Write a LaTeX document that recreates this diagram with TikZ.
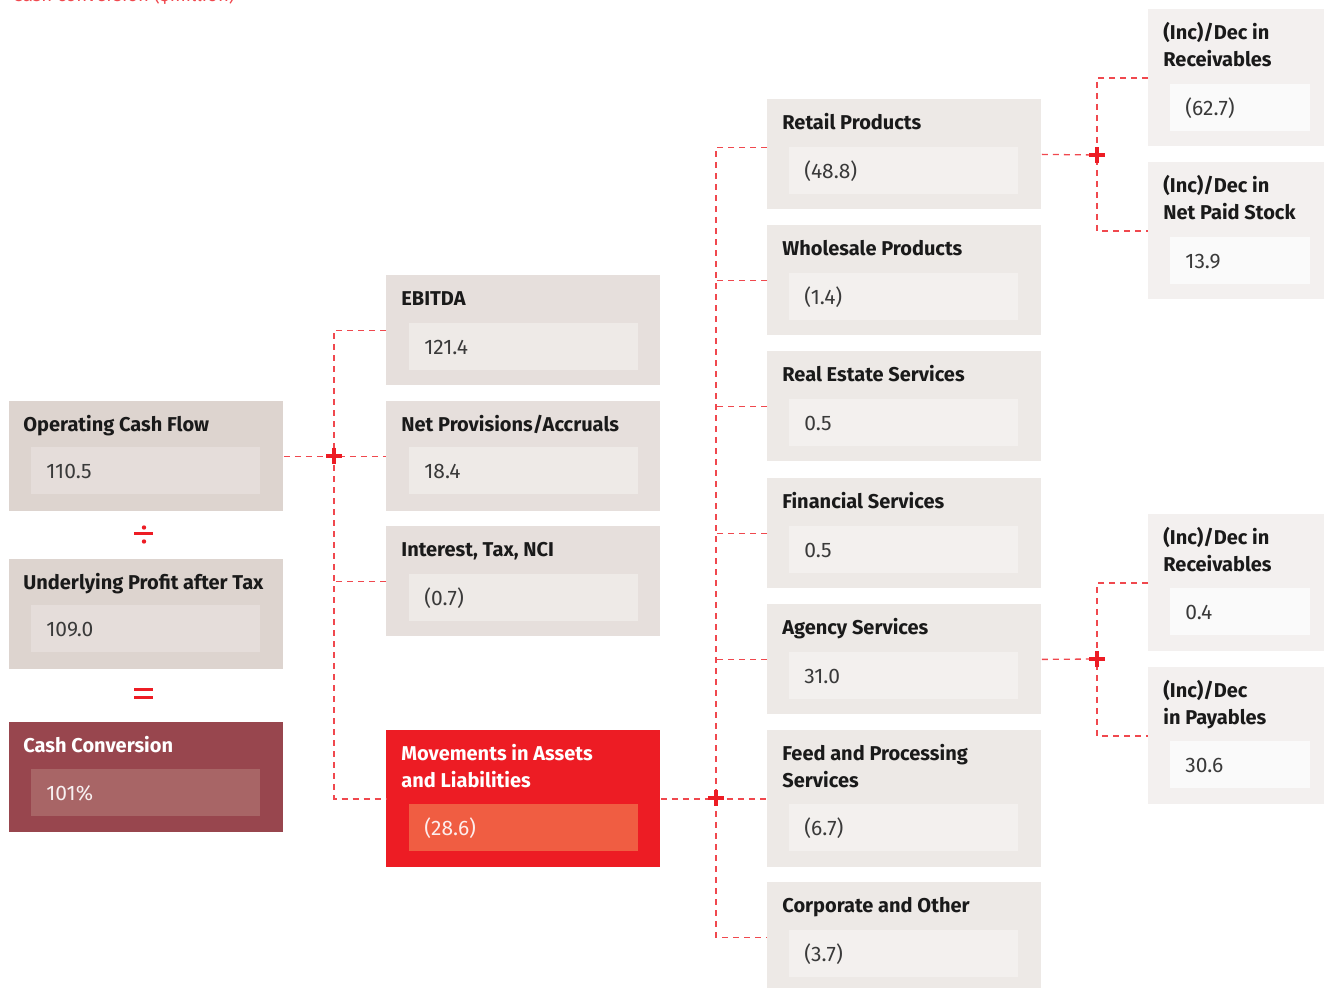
\documentclass[tikz,border=0pt]{standalone}
\usepackage{fontspec}
\setmainfont{Fira Sans}
\usetikzlibrary{positioning}
\definecolor{taupeA}{HTML}{DDD4CF}
\definecolor{taupeAin}{HTML}{E5DDDA}
\definecolor{wine}{HTML}{98464E}
\definecolor{winein}{HTML}{A86566}
\definecolor{taupeB}{HTML}{E6DFDC}
\definecolor{taupeBin}{HTML}{EEEAE7}
\definecolor{brand}{HTML}{ED1C24}
\definecolor{brandin}{HTML}{F05D42}
\definecolor{taupeC}{HTML}{EDE9E6}
\definecolor{taupeCin}{HTML}{F3F0EE}
\definecolor{taupeD}{HTML}{F3F0EF}
\definecolor{taupeDin}{HTML}{FAFAFA}
\definecolor{linkred}{HTML}{F0484E}
\definecolor{ink}{HTML}{1A1A1A}
\definecolor{valgrey}{HTML}{3A3A3A}
\begin{document}
\begin{tikzpicture}[x=0.5pt, y=-0.5pt,
	outer/.style={anchor=north west, inner sep=0pt, minimum width=137pt, minimum height=55pt},
	tall/.style={minimum height=68.5pt},
	narrow/.style={minimum width=88pt, minimum height=68.5pt},
	title/.style={anchor=base west, inner sep=0pt, align=left, font=\bfseries\fontsize{10}{13.5}\selectfont, text=ink},
	value/.style={anchor=north west, inner sep=0pt, inner xsep=7.5pt, minimum height=23.5pt, text width=99.5pt, text height=7.2pt, text depth=0pt, font=\fontsize{10.5}{12}\selectfont, text=valgrey},
	short/.style={text width=55pt},
	link/.style={draw=linkred, line width=0.65pt, dash pattern=on 3pt off 2.5pt},
	plus/.style={draw=brand, line width=1.6pt}]
	\useasboundingbox (0,0) rectangle (1324,988);
	\node[anchor=base west, inner sep=0pt, text=linkred, font=\fontsize{9.3}{11}\selectfont] (heading) at (12,1.5) {Cash conversion (\$million)};
	% first column
	\node[outer, fill=taupeA] (ocf) at (9,401) {};
	\node[title] (ocft) at ([shift={(14,31)}]ocf.north west) {Operating Cash Flow};
	\node[value, fill=taupeAin] (ocfv) at ([shift={(22,46)}]ocf.north west) {110.5};
	\node[outer, fill=taupeA] (upat) at (9,559) {};
	\node[title] (upatt) at ([shift={(14,31)}]upat.north west) {Underlying Profit after Tax};
	\node[value, fill=taupeAin] (upatv) at ([shift={(22,46)}]upat.north west) {109.0};
	\node[outer, fill=wine] (cc) at (9,722) {};
	\node[title, text=white] (cct) at ([shift={(14,31)}]cc.north west) {Cash Conversion};
	\node[value, fill=winein, text=white!92!wine] (ccv) at ([shift={(22,47)}]cc.north west) {101\%};
	\draw[brand, line width=1.5pt] (134,534) -- (153,534);
	\fill[brand] (144,527.5) circle (1.1pt) (144,541.5) circle (1.1pt);
	\draw[brand, line width=1.5pt] (134,690) -- (153,690) (134,698) -- (153,698);
	% second column
	\node[outer, fill=taupeB] (ebitda) at (386,275) {};
	\node[title] (ebitdat) at ([shift={(15,31)}]ebitda.north west) {EBITDA};
	\node[value, fill=taupeBin] (ebitdav) at ([shift={(23,48)}]ebitda.north west) {121.4};
	\node[outer, fill=taupeB] (npa) at (386,401) {};
	\node[title] (npat) at ([shift={(15,31)}]npa.north west) {Net Provisions/Accruals};
	\node[value, fill=taupeBin] (npav) at ([shift={(23,46)}]npa.north west) {18.4};
	\node[outer, fill=taupeB] (itn) at (386,526) {};
	\node[title] (itnt) at ([shift={(15,31)}]itn.north west) {Interest, Tax, NCI};
	\node[value, fill=taupeBin] (itnv) at ([shift={(23,48)}]itn.north west) {(0.7)};
	\node[outer, tall, fill=brand] (mal) at (386,730) {};
	\node[title, text=white] (malt) at ([shift={(15,58)}]mal.north west) {Movements in Assets\\and Liabilities};
	\node[value, fill=brandin, text=white!92!brand] (malv) at ([shift={(23,74)}]mal.north west) {(28.6)};
	% third column
	\node[outer, fill=taupeC] (retail) at (767,99) {};
	\node[title] (retailt) at ([shift={(15,31)}]retail.north west) {Retail Products};
	\node[value, fill=taupeCin] (retailv) at ([shift={(22,48)}]retail.north west) {(48.8)};
	\node[outer, fill=taupeC] (wholesale) at (767,225) {};
	\node[title] (wholesalet) at ([shift={(15,31)}]wholesale.north west) {Wholesale Products};
	\node[value, fill=taupeCin] (wholesalev) at ([shift={(22,48)}]wholesale.north west) {(1.4)};
	\node[outer, fill=taupeC] (res) at (767,351) {};
	\node[title] (rest) at ([shift={(15,31)}]res.north west) {Real Estate Services};
	\node[value, fill=taupeCin] (resv) at ([shift={(22,48)}]res.north west) {0.5};
	\node[outer, fill=taupeC] (fin) at (767,478) {};
	\node[title] (fint) at ([shift={(15,31)}]fin.north west) {Financial Services};
	\node[value, fill=taupeCin] (finv) at ([shift={(22,48)}]fin.north west) {0.5};
	\node[outer, fill=taupeC] (agency) at (767,604) {};
	\node[title] (agencyt) at ([shift={(15,31)}]agency.north west) {Agency Services};
	\node[value, fill=taupeCin] (agencyv) at ([shift={(22,48)}]agency.north west) {31.0};
	\node[outer, tall, fill=taupeC] (fps) at (767,730) {};
	\node[title] (fpst) at ([shift={(15,58)}]fps.north west) {Feed and Processing\\Services};
	\node[value, fill=taupeCin] (fpsv) at ([shift={(22,74)}]fps.north west) {(6.7)};
	\node[outer, fill=taupeC] (corp) at (767,882) {};
	\node[title] (corpt) at ([shift={(15,31)}]corp.north west) {Corporate and Other};
	\node[value, fill=taupeCin] (corpv) at ([shift={(22,48)}]corp.north west) {(3.7)};
	% fourth column
	\node[outer, narrow, fill=taupeD] (recv) at (1148,9) {};
	\node[title] (recvt) at ([shift={(15,58)}]recv.north west) {(Inc)/Dec in\\Receivables};
	\node[value, short, fill=taupeDin] (recvv) at ([shift={(22,75)}]recv.north west) {(62.7)};
	\node[outer, narrow, fill=taupeD] (nps) at (1148,162) {};
	\node[title] (npst) at ([shift={(15,58)}]nps.north west) {(Inc)/Dec in\\Net Paid Stock};
	\node[value, short, fill=taupeDin] (npsv) at ([shift={(22,75)}]nps.north west) {13.9};
	\node[outer, narrow, fill=taupeD] (recvb) at (1148,514) {};
	\node[title] (recvbt) at ([shift={(15,58)}]recvb.north west) {(Inc)/Dec in\\Receivables};
	\node[value, short, fill=taupeDin] (recvbv) at ([shift={(22,74)}]recvb.north west) {0.4};
	\node[outer, narrow, fill=taupeD] (pay) at (1148,667) {};
	\node[title] (payt) at ([shift={(15,58)}]pay.north west) {(Inc)/Dec\\in Payables};
	\node[value, short, fill=taupeDin] (payv) at ([shift={(22,74)}]pay.north west) {30.6};
	% connectors
	\coordinate (j1) at (334,456);
	\coordinate (j2) at (716,798);
	\coordinate (j3) at (1097,155);
	\coordinate (j4) at (1097,659);
	\draw[link] (ocf.east) -- (npa.west);
	\draw[link] (ebitda.west) -| (j1) |- (mal.west);
	\draw[link] (itn.west) -- (itn.west -| j1);
	\draw[link] (mal.east) -- (fps.west);
	\draw[link] ([yshift=3.5pt]retail.west) -| (j2) |- (corp.west);
	\foreach \b in {wholesale,res,fin,agency}
		\draw[link] (\b.west) -- (\b.west -| j2);
	\draw[link] (retail.east) -- (j3);
	\draw[link] (recv.west) -| (j3) |- (nps.west);
	\draw[link] (agency.east) -- (j4);
	\draw[link] (recvb.west) -| (j4) |- (pay.west);
	\foreach \j in {j1,j2,j3,j4}
		\draw[plus] (\j) +(-8,0) -- +(8,0) (\j) +(0,-8) -- +(0,8);
\end{tikzpicture}
\end{document}
